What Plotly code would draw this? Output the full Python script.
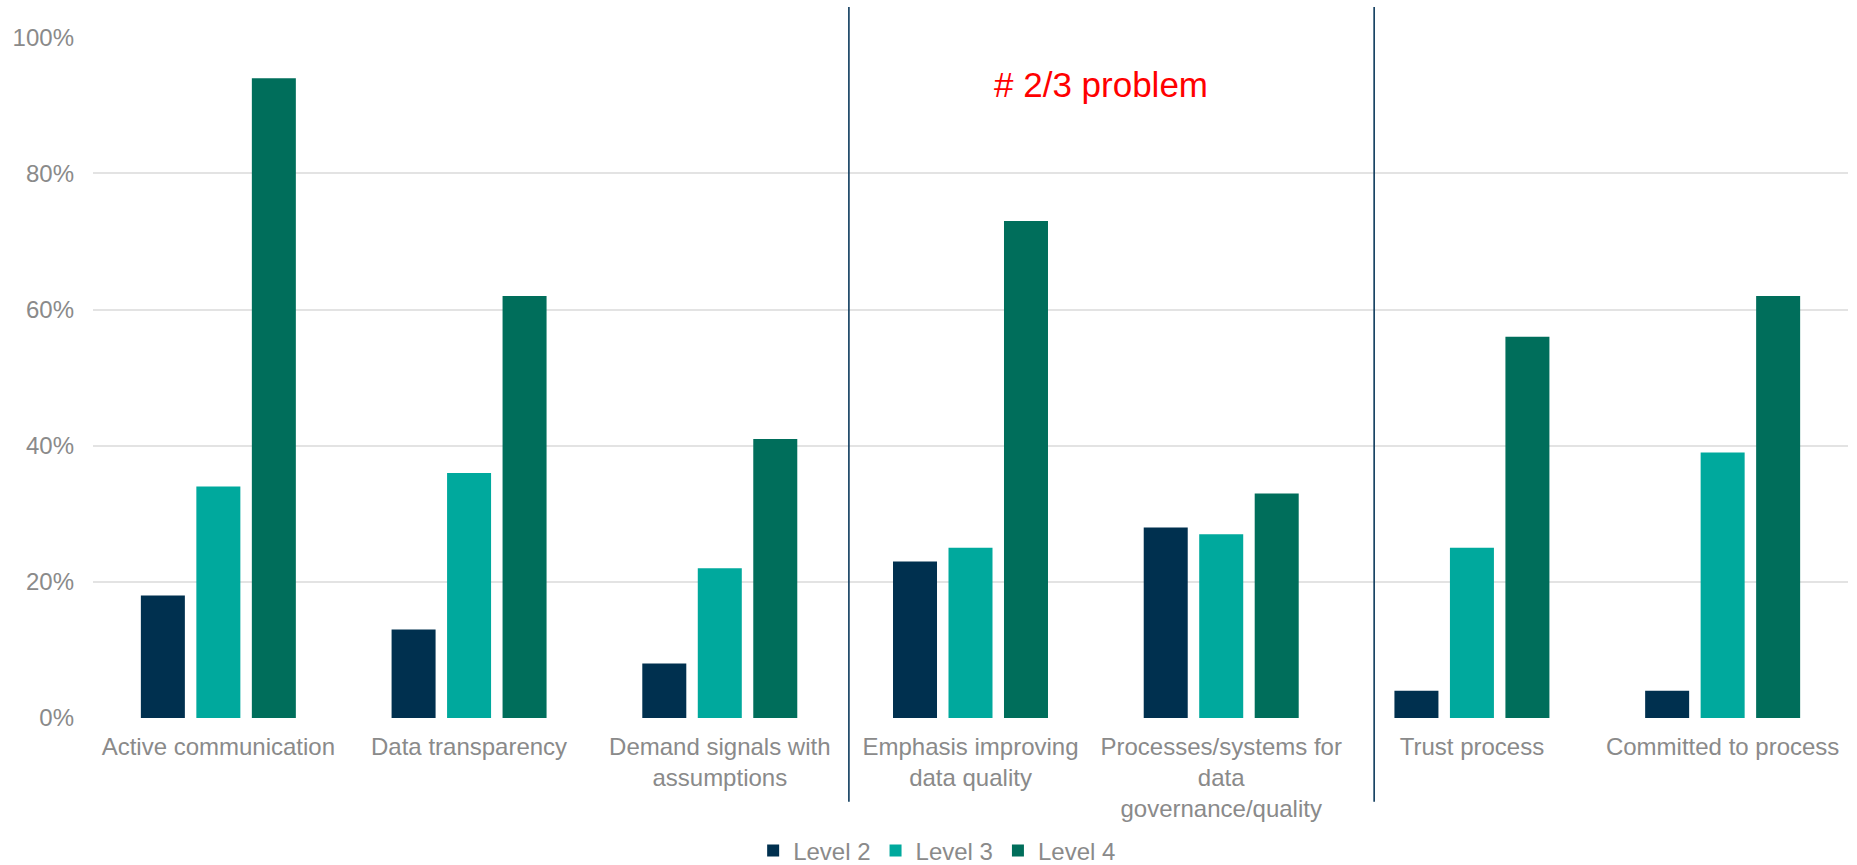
import plotly.graph_objects as go

categories = [
    "Active communication",
    "Data transparency",
    "Demand signals with<br>assumptions",
    "Emphasis improving<br>data quality",
    "Processes/systems for<br>data<br>governance/quality",
    "Trust process",
    "Committed to process",
]
level2 = [0.18, 0.13, 0.08, 0.23, 0.28, 0.04, 0.04]
level3 = [0.34, 0.36, 0.22, 0.25, 0.27, 0.25, 0.39]
level4 = [0.94, 0.62, 0.41, 0.73, 0.33, 0.56, 0.62]
series_names = ["Level 2", "Level 3", "Level 4"]
colors = ["#00304F", "#00A99D", "#006E5B"]
y_ticks = [0, 0.2, 0.4, 0.6, 0.8, 1.0]
y_ticklabels = ["0%", "20%", "40%", "60%", "80%", "100%"]
annotation_text = "# 2/3 problem"
separator_positions = [2.515, 4.61]

grey = "#8A8A8A"
font_family = "Liberation Sans, Arial, sans-serif"

fig = go.Figure()
for name, vals, col in zip(series_names, [level2, level3, level4], colors):
    fig.add_trace(go.Bar(
        x=categories, y=vals, name=name,
        marker=dict(color=col, line=dict(width=0)),
        hoverinfo="x+y+name",
    ))

for xs in separator_positions:
    fig.add_shape(type="line", xref="x", yref="paper",
                  x0=xs, x1=xs, y0=-0.123, y1=1.044,
                  line=dict(color="#0D3A5C", width=1.6))

fig.add_annotation(x=3.52, y=0.93, xref="x", yref="y",
                   text=annotation_text, showarrow=False,
                   font=dict(color="#FF0000", size=35, family=font_family),
                   xanchor="center", yanchor="middle")

fig.update_layout(
    width=1857, height=865,
    margin=dict(l=93, r=9, t=37, b=147, autoexpand=False),
    paper_bgcolor="white", plot_bgcolor="white",
    barmode="group", bargap=0.336, bargroupgap=0.207,
    font=dict(family=font_family, size=24, color=grey),
    showlegend=True,
    legend=dict(orientation="h", x=0.481, y=-0.195,
                xanchor="center", yanchor="middle",
                font=dict(size=24, color=grey),
                itemwidth=30, traceorder="normal"),
)
fig.update_xaxes(showgrid=False, zeroline=False, showline=False,
                 ticks="", tickfont=dict(size=24, color=grey),
                 tickangle=0, automargin=False, ticklabelstandoff=12)
fig.update_yaxes(range=[0, 1.0005], tickvals=y_ticks, ticktext=y_ticklabels,
                 showgrid=True, gridcolor="#E3E3E3", gridwidth=1.5,
                 zeroline=False, showline=False, ticks="",
                 tickfont=dict(size=24, color=grey),
                 automargin=False, ticklabelstandoff=18)

fig.write_html("out.html")
